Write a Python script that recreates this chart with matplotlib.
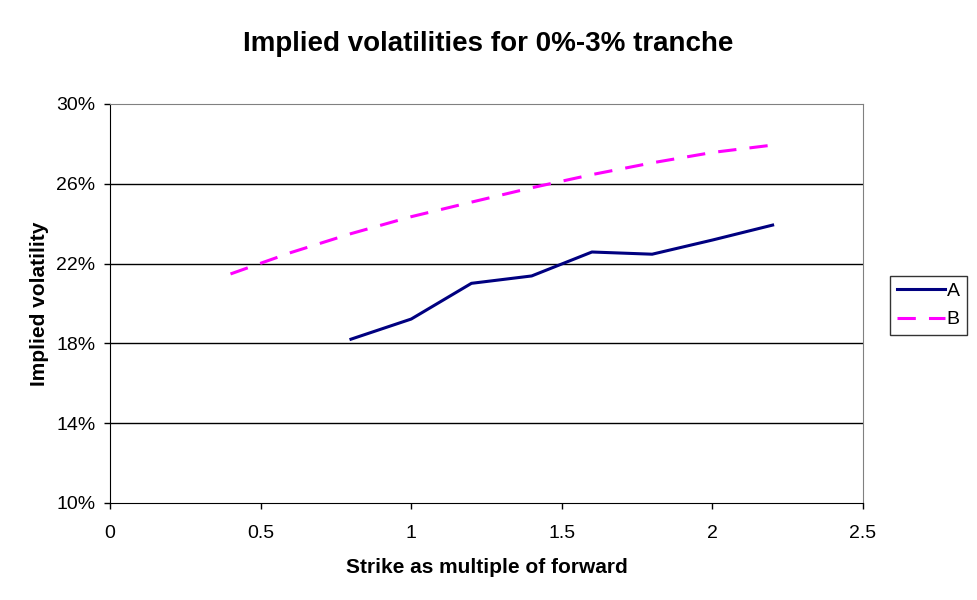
import matplotlib.pyplot as plt
from matplotlib.ticker import FuncFormatter

# strike as multiple of forward, implied vol in %
strike_a = [0.8, 1.0, 1.2, 1.4, 1.6, 1.8, 2.0, 2.2]
vol_a = [18.21, 19.22, 21.01, 21.38, 22.58, 22.47, 23.18, 23.93]

strike_b = [0.4, 0.6, 0.8, 1.0, 1.2, 1.4, 1.6, 1.8, 2.0, 2.2]
vol_b = [21.48, 22.55, 23.5, 24.35, 25.08, 25.8, 26.46, 27.05, 27.57, 27.94]

x_ticks = [0, 0.5, 1, 1.5, 2, 2.5]
y_ticks = [10, 14, 18, 22, 26, 30]

plt.rcParams['font.family'] = ['Liberation Sans', 'DejaVu Sans']

fig = plt.figure(figsize=(9.77, 6), dpi=100)
ax = fig.add_axes([0.1126, 0.1617, 0.7707, 0.665])

ax.plot(strike_a, vol_a, color='#000080', lw=2.2, label='A')
ax.plot(strike_b, vol_b, color='#FF00FF', lw=2.2, dashes=(6, 4.3), label='B')

ax.set_xlim(0, 2.5)
ax.set_ylim(10, 30)
ax.set_xticks(x_ticks)
ax.set_yticks(y_ticks)
ax.xaxis.set_major_formatter(FuncFormatter(lambda v, p: f'{v:g}'))
ax.yaxis.set_major_formatter(FuncFormatter(lambda v, p: f'{v:.0f}%'))
ax.tick_params(labelsize=14, direction='out', length=4.5, width=1, color='black')
ax.tick_params(axis='x', pad=11)
ax.tick_params(axis='y', pad=6)

# horizontal gridlines in black
for y in y_ticks[1:-1]:
    ax.axhline(y, color='black', lw=1, zorder=0)

ax.spines['top'].set_color('#808080')
ax.spines['right'].set_color('#808080')
ax.spines['left'].set_color('black')
ax.spines['bottom'].set_color('black')

ax.set_xlabel('Strike as multiple of forward', fontsize=15, fontweight='bold', labelpad=12)
ax.set_ylabel('Implied volatility', fontsize=15, fontweight='bold', labelpad=5)
fig.suptitle('Implied volatilities for 0%-3% tranche', fontsize=20, fontweight='bold', y=0.948)

leg = ax.legend(loc='center left', bbox_to_anchor=(1.036, 0.495), fontsize=14, frameon=True,
                fancybox=False, edgecolor='black', handlelength=2.45, borderpad=0.35,
                labelspacing=0.55, handletextpad=0.12, borderaxespad=0)
leg.get_frame().set_linewidth(1)

fig.savefig('out.png', dpi=100)
